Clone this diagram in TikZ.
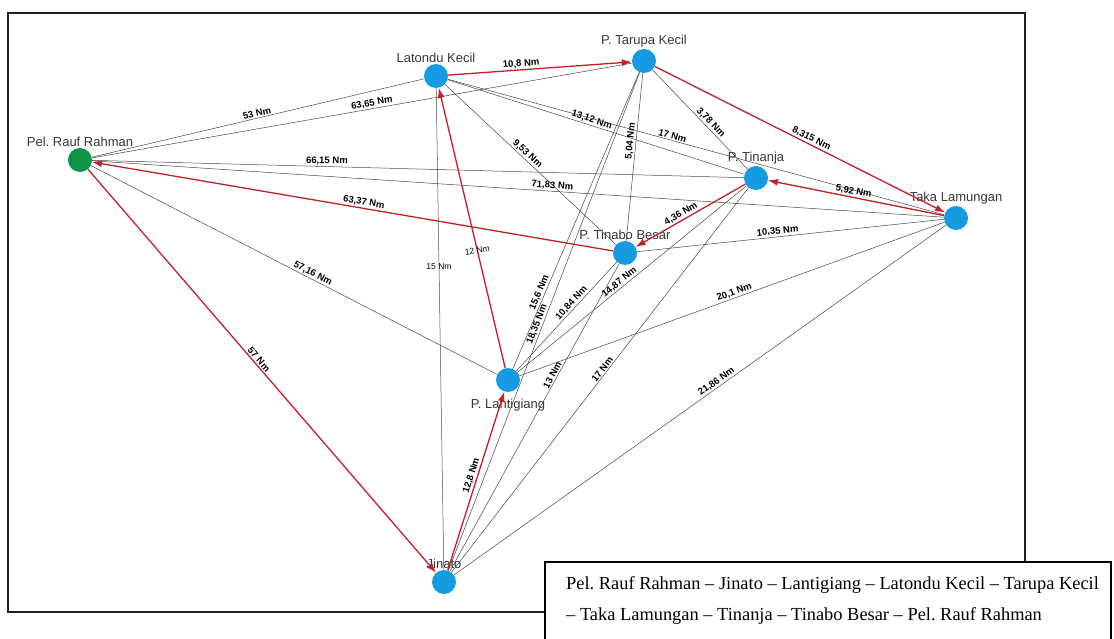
\documentclass[tikz,border=0pt]{standalone}
\usepackage{fontspec}
\setmainfont{Liberation Serif}
\setsansfont{Liberation Sans}
\frenchspacing
\usepackage{xcolor}
\usepackage{tikz}
\usetikzlibrary{arrows.meta,positioning}
\definecolor{pulau}{RGB}{22,155,226}
\definecolor{pelabuhan}{RGB}{12,148,72}
\definecolor{merah}{RGB}{196,32,40}
\definecolor{garis}{RGB}{70,70,70}
\definecolor{bingkai}{RGB}{35,31,32}
\definecolor{teks}{RGB}{55,55,55}

\begin{document}
\begin{tikzpicture}[x=1pt,y=-1pt,
  island/.style={circle,fill=pulau,minimum size=24pt,inner sep=0pt,label distance=3pt},
  namapulau/.style={font=\sffamily\fontsize{13}{13}\selectfont,text=teks,inner sep=1pt},
  jalur/.style={draw=garis,line width=0.5pt},
  rute/.style={draw=merah,line width=1.3pt,-{Latex[length=10pt,width=7pt]}},
  jarak/.style={font=\sffamily\bfseries\fontsize{9.5}{9.5}\selectfont,sloped,above,inner sep=1.2pt},
  jaraktipis/.style={font=\sffamily\fontsize{8.5}{8.5}\selectfont,inner sep=1pt}]
  \useasboundingbox (0,0) rectangle (1114,639);
  \draw[bingkai,line width=2.5pt] (8,13) rectangle (1025,612); %外框

  % 节点
  \node[island,fill=pelabuhan,label={[namapulau]above:Pel. Rauf Rahman}] (rauf) at (80,160) {};
  \node[island,label={[namapulau]above:Latondu Kecil}] (latondu) at (436,76) {};
  \node[island,label={[namapulau]above:P. Tarupa Kecil}] (tarupa) at (644,61) {};
  \node[island,label={[namapulau]above:P. Tinanja}] (tinanja) at (756,178) {};
  \node[island,label={[namapulau]above:Taka Lamungan}] (taka) at (956,218) {};
  \node[island,label={[namapulau]above:P. Tinabo Besar}] (tinabo) at (625,253) {};
  \node[island,label={[namapulau,label distance=6pt]below:P. Lantigiang}] (lantigiang) at (508,380) {};
  \node[island,label={[namapulau]above:Jinato}] (jinato) at (444,582) {};

  % 其余连线
  \draw[jalur] (rauf) -- node[jarak,pos=.50] {53 Nm} (latondu);
  \draw[jalur] (rauf) -- node[jarak,pos=.52] {63,65 Nm} (tarupa);
  \draw[jalur] (rauf) -- node[jarak,pos=.36] {66,15 Nm} (tinanja);
  \draw[jalur] (rauf) -- node[jarak,pos=.54] {71,83 Nm} (taka);
  \draw[jalur] (rauf) -- node[jarak,pos=.54] {57,16 Nm} (lantigiang);
  \draw[jalur] (latondu) -- node[jarak,pos=.48] {13,12 Nm} (tinanja);
  \draw[jalur] (latondu) -- node[jarak,pos=.45] {17 Nm} (taka);
  \draw[jalur] (latondu) -- node[jarak,pos=.46] {9,53 Nm} (tinabo);
  \draw[jalur] (latondu) -- node[jaraktipis,pos=.37] {15 Nm} (jinato);
  \draw[jalur] (tarupa) -- node[jarak,pos=.57] {3,78 Nm} (tinanja);
  \draw[jalur] (tarupa) -- node[jarak,pos=.41] {5,04 Nm} (tinabo);
  \draw[jalur] (tarupa) -- node[jarak,pos=.75] {15,6 Nm} (lantigiang);
  \draw[jalur] (tarupa) -- node[jarak,pos=.51] {18,35 Nm} (jinato);
  \draw[jalur] (tinanja) -- node[jarak,pos=.54] {14,87 Nm} (lantigiang);
  \draw[jalur] (tinanja) -- node[jarak,pos=.48] {17 Nm} (jinato);
  \draw[jalur] (taka) -- node[jarak,pos=.54] {10,35 Nm} (tinabo);
  \draw[jalur] (taka) -- node[jarak,pos=.49] {20,1 Nm} (lantigiang);
  \draw[jalur] (taka) -- node[jarak,pos=.46] {21,86 Nm} (jinato);
  \draw[jalur] (tinabo) -- node[jarak,pos=.41] {10,84 Nm} (lantigiang);
  \draw[jalur] (tinabo) -- node[jarak,pos=.37] {13 Nm} (jinato);

  % 路线
  \draw[rute] (rauf) -- node[jarak,pos=.48] {57 Nm} (jinato);
  \draw[rute] (jinato) -- node[jarak,pos=.52] {12,8 Nm} (lantigiang);
  \draw[rute] (lantigiang) -- node[jaraktipis,pos=.42,rotate=10] {12 Nm} (latondu);
  \draw[rute] (latondu) -- node[jarak,pos=.40] {10,8 Nm} (tarupa);
  \draw[rute] (tarupa) -- node[jarak,pos=.53] {8,315 Nm} (taka);
  \draw[rute] (taka) -- node[jarak,pos=.52] {5,92 Nm} (tinanja);
  \draw[rute] (tinanja) -- node[jarak,pos=.56] {4,36 Nm} (tinabo);
  \draw[rute] (tinabo) -- node[jarak,pos=.48] {63,37 Nm} (rauf);

  % 说明框
  \draw[fill=white,line width=1.2pt] (545,562) rectangle (1111,660);
  \node[anchor=west,align=left,inner sep=4pt,font=\fontsize{18.4}{31}\selectfont] (legenda) at (562,601)
    {Pel. Rauf Rahman -- Jinato -- Lantigiang -- Latondu Kecil -- Tarupa Kecil\\
     -- Taka Lamungan -- Tinanja -- Tinabo Besar -- Pel. Rauf Rahman};
\end{tikzpicture}
\end{document}
